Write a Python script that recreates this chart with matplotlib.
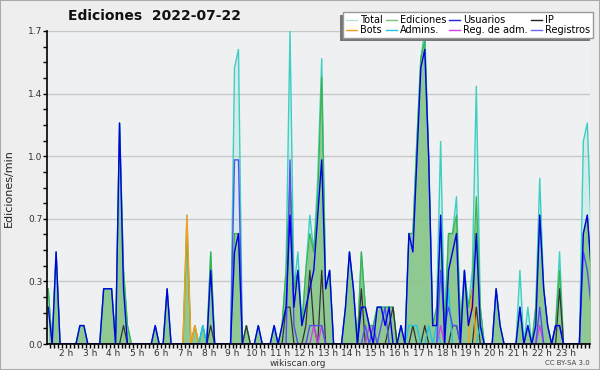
import numpy as np
import matplotlib
matplotlib.use("Agg")
import matplotlib.pyplot as plt
from matplotlib.lines import Line2D
from matplotlib.patches import Rectangle
from matplotlib.ticker import FixedLocator, MultipleLocator

# 10-minute bins, edits per minute, first bin at 1:15
start_hour = 1.25
step = 1 / 6

total = [
    .3, 0, .5, 0, 0, 0, 0, 0, .1, .1, 0, 0,
    0, 0, .3, .3, .3, 0, 1.2, .4, .1, 0, 0, 0,
    0, 0, 0, .1, 0, 0, .3, 0, 0, 0, 0, .7,
    0, .1, 0, .1, 0, .5, 0, 0, 0, 0, 0, 1.5,
    1.6, 0, .1, 0, 0, .1, 0, 0, 0, .1, 0, .1,
    .4, 1.7, .3, .5, .1, .4, .7, .5, .9, 1.55, .3, .4,
    0, 0, 0, .2, .5, .3, 0, .5, .2, .1, .1, .2,
    .2, .2, .2, .2, 0, .1, 0, .6, .6, 1.1, 1.55, 1.7,
    1.0, .1, .2, 1.1, .1, .6, .6, .8, .1, .4, .2, .4,
    1.4, .2, 0, 0, 0, .3, .1, 0, 0, 0, 0, .4,
    0, .2, 0, .2, .9, .3, .1, 0, .1, .5, 0, 0,
    0, 0, 0, 1.1, 1.2, .6,
]

edits = [
    .3, 0, .5, 0, 0, 0, 0, 0, .1, .1, 0, 0,
    0, 0, .3, .3, .3, 0, 1.2, .4, .1, 0, 0, 0,
    0, 0, 0, .1, 0, 0, .3, 0, 0, 0, 0, .6,
    0, .1, 0, .1, 0, .5, 0, 0, 0, 0, 0, .6,
    .6, 0, .1, 0, 0, .1, 0, 0, 0, .1, 0, .1,
    .4, .9, .3, .4, .1, .4, .6, .5, .8, 1.45, .3, .4,
    0, 0, 0, .2, .5, .3, 0, .5, .2, .1, .1, .2,
    .2, .2, .2, .2, 0, .1, 0, .6, .6, 1.1, 1.55, 1.65,
    1.0, .1, .2, .6, .1, .6, .6, .7, .1, .4, .2, .3,
    .8, .2, 0, 0, 0, .3, .1, 0, 0, 0, 0, .2,
    0, .1, 0, .2, .7, .3, .1, 0, .1, .4, 0, 0,
    0, 0, 0, .6, .7, .4,
]

users = [
    .2, 0, .5, 0, 0, 0, 0, 0, .1, .1, 0, 0,
    0, 0, .3, .3, .3, 0, 1.2, .3, 0, 0, 0, 0,
    0, 0, 0, .1, 0, 0, .3, 0, 0, 0, 0, 0,
    0, 0, 0, 0, 0, .4, 0, 0, 0, 0, 0, .5,
    .6, 0, 0, 0, 0, .1, 0, 0, 0, .1, 0, .1,
    .2, .7, .2, .4, .1, .2, .3, .4, .7, 1.0, .3, .4,
    0, 0, 0, .2, .5, .3, 0, .2, .2, .1, 0, .2,
    .2, .1, .2, 0, 0, .1, 0, .6, .5, 1.0, 1.5, 1.6,
    1.0, .1, .1, .7, 0, .4, .5, .6, 0, .4, .1, .2,
    .6, .1, 0, 0, 0, .3, .1, 0, 0, 0, 0, .2,
    0, .1, 0, .1, .7, .3, .1, 0, .1, .1, 0, 0,
    0, 0, 0, .6, .7, .4,
]

# sparse series: bin index -> value
ip = {19: .1, 41: .1, 50: .1, 60: .2, 61: .2, 65: .1, 66: .4, 67: .1, 69: .4,
      79: .3, 86: .1, 87: .2, 92: .1, 95: .1, 102: .1, 103: .1, 108: .2, 129: .3}
registros = {47: 1.0, 48: 1.0, 61: 1.0, 62: .1, 66: .1, 67: .1, 68: .1, 69: .1,
             80: .1, 82: .1, 84: .1, 85: .2, 99: .4, 100: .1, 101: .2, 102: .1,
             103: .1, 124: .2, 128: .1, 129: .1, 135: .5, 136: .4, 137: .2}
bots = {35: .7, 37: .1, 107: .3}
admins = {39: .1, 91: .1, 92: .1, 93: .1, 96: .1, 98: .1, 101: .3, 109: .1}
regadm = {67: .1, 69: .1, 81: .1, 99: .1, 124: .1}

n = len(total)
x = start_hour + np.arange(n) * step


def dense(d):
    arr = np.zeros(n)
    for k, v in d.items():
        arr[k] = v
    return arr


fig = plt.figure(figsize=(6, 3.7), dpi=100, facecolor='#eeeeee')
ax = fig.add_axes([47 / 600, 26 / 370, 543 / 600, 313 / 370])
ax.set_facecolor('#eef0f2')

ax.fill_between(x, total, color='#48d4c6', alpha=0.15, lw=0)
ax.fill_between(x, edits, color='#8cc68c', alpha=0.95, lw=0)
ax.plot(x, total, color='#3ccfc2', lw=1)
ax.plot(x, edits, color='#3cb44a', lw=0.9)
ax.plot(x, dense(ip), color='#333333', lw=0.9)
ax.plot(x, dense(bots), color='#ff9a1a', lw=1)
ax.plot(x, dense(admins), color='#20c4e4', lw=1)
ax.plot(x, dense(regadm), color='#d040e8', lw=1)
ax.plot(x, dense(registros), color='#5050f0', lw=1)
ax.plot(x, users, color='#0000e6', lw=1)

ax.set_xlim(1.2, 24.03)
ax.set_ylim(0, 1.7)
yt = np.linspace(0, 1.7, 6)
ax.set_yticks(yt)
ax.set_yticklabels([f"{v:.1f}" for v in yt])
ax.yaxis.set_minor_locator(FixedLocator(np.linspace(0, 1.7, 21)))
hours = list(range(2, 24))
ax.set_xticks(hours)
ax.set_xticklabels([f"{h} h" for h in hours])
ax.xaxis.set_minor_locator(MultipleLocator(step))
ax.tick_params(which='both', direction='out', length=2.6, width=1,
               color='black', labelsize=6.5, labelcolor='#333333', pad=0.8)
ax.yaxis.grid(True, color='#c8c8c8', lw=1)
ax.set_axisbelow(True)
for s in ('top', 'right'):
    ax.spines[s].set_visible(False)
for s in ('left', 'bottom'):
    ax.spines[s].set_linewidth(1.2)

fig.text(154 / 600, 1 - 16 / 370, "Ediciones  2022-07-22", ha='center',
         va='center', fontsize=10, fontweight='bold', color='#111111')
fig.text(9 / 600, 1 - 188 / 370, "Ediciones/min", rotation=90, ha='center',
         va='center', fontsize=8, color='#222222')
fig.text(298 / 600, 1 - 363 / 370, "wikiscan.org", ha='center', va='center',
         fontsize=6.5, color='#333333')
fig.text(590 / 600, 1 - 363 / 370, "CC BY-SA 3.0", ha='right', va='center',
         fontsize=5, color='#444444')

# legend, column-wise order for ncol=4
entries = [('Total', '#a8e6de'), ('Bots', '#ff9a1a'),
           ('Ediciones', '#7cc47c'), ('Admins.', '#20c4e4'),
           ('Usuarios', '#2020e0'), ('Reg. de adm.', '#d040e8'),
           ('IP', '#222222'), ('Registros', '#6a6aee')]
handles = [Line2D([], [], color=c, lw=1) for _, c in entries]
labels = [t for t, _ in entries]
leg = fig.legend(handles, labels, loc='upper right',
                 bbox_to_anchor=(593 / 600, 1 - 12 / 370), ncol=4,
                 fontsize=7, frameon=True, fancybox=False,
                 edgecolor='#999999', facecolor='white', framealpha=1,
                 handlelength=1.1, handletextpad=0.35, columnspacing=0.3,
                 borderpad=0.3, labelspacing=0.0, borderaxespad=0)
leg.set_zorder(5)

fig.canvas.draw()
bb = leg.get_window_extent()
inv = fig.transFigure.inverted()
(x0, y0), (x1, y1) = inv.transform([(bb.x0 - 3, bb.y0 - 3), (bb.x1 - 3, bb.y1 - 3)])
fig.add_artist(Rectangle((x0, y0), x1 - x0, y1 - y0, transform=fig.transFigure,
                         facecolor='#777777', edgecolor='none', zorder=4))
fig.add_artist(Rectangle((0, 0), 1, 1, transform=fig.transFigure, fill=False,
                         edgecolor='#aaaaaa', lw=1.5, zorder=6))

fig.savefig('out.png', dpi=100, facecolor=fig.get_facecolor())
